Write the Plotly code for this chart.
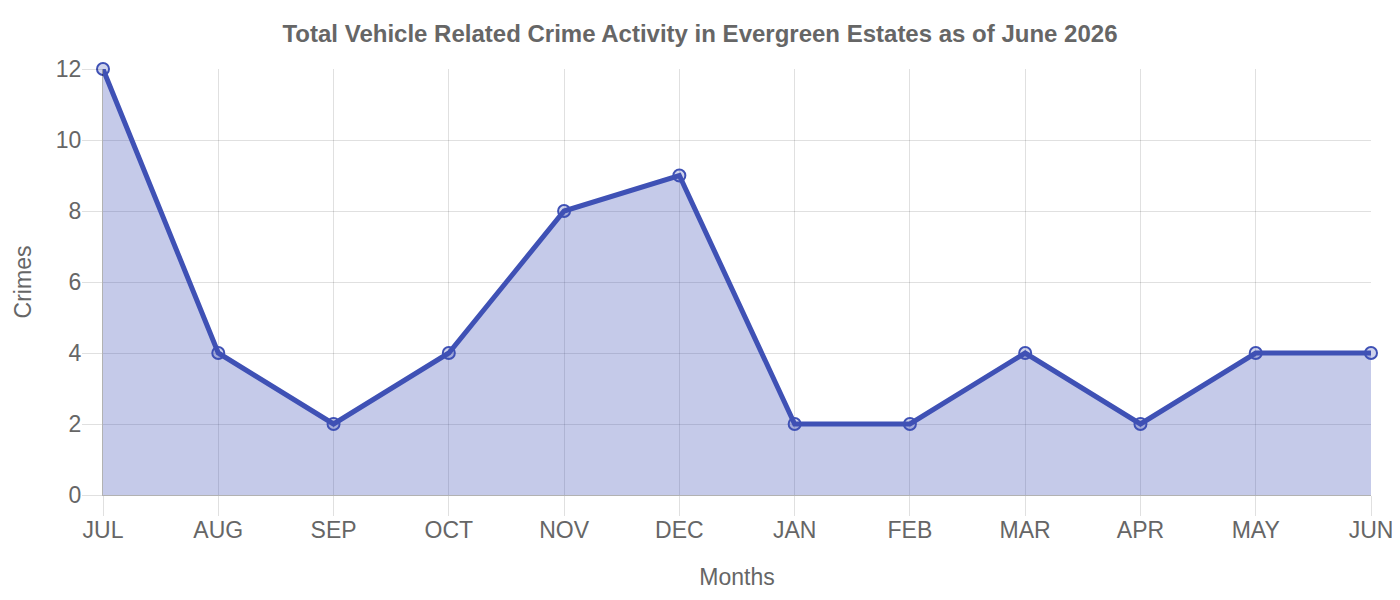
import plotly.graph_objects as go

months = ["JUL", "AUG", "SEP", "OCT", "NOV", "DEC", "JAN", "FEB", "MAR", "APR", "MAY", "JUN"]
crimes = [12, 4, 2, 4, 8, 9, 2, 2, 4, 2, 4, 4]

fig = go.Figure()
fig.add_trace(go.Scatter(
    x=months, y=crimes, mode="lines+markers",
    fill="tozeroy", fillcolor="rgba(63,81,181,0.3)",
    line=dict(color="#3f51b5", width=5),
    marker=dict(size=12, color="rgba(63,81,181,0.25)", line=dict(color="#3f51b5", width=2)),
    cliponaxis=False,
    hoverinfo="x+y",
))

font = "Liberation Sans, Arial, sans-serif"
W, H = 1384, 584
fig.update_layout(
    width=W, height=H,
    margin=dict(l=95, r=21, t=61, b=97, autoexpand=False),
    paper_bgcolor="white", plot_bgcolor="white",
    showlegend=False,
    title=dict(text="<b>Total Vehicle Related Crime Activity in Evergreen Estates as of June 2026</b>",
               x=0.5, xanchor="center", y=1 - 26/H, yanchor="middle",
               font=dict(family=font, size=24, color="#666666")),
    font=dict(family=font, color="#666666"),
)
fig.update_xaxes(
    type="category", range=[0, 11], automargin=False,
    showgrid=True, gridcolor="rgba(0,0,0,0.12)", gridwidth=1,
    ticks="outside", ticklen=20, tickcolor="rgba(0,0,0,0.12)", tickwidth=1,
    showline=True, linecolor="rgba(0,0,0,0.3)", linewidth=1,
    tickfont=dict(size=23, color="#666666"),
    ticklabelstandoff=-6,
    title=dict(text="Months", font=dict(size=23, color="#666666"), standoff=27),
    zeroline=False,
)
fig.update_yaxes(
    range=[0, 12], dtick=2, automargin=False,
    showgrid=True, gridcolor="rgba(0,0,0,0.12)", gridwidth=1,
    ticks="outside", ticklen=20, tickcolor="rgba(0,0,0,0.12)", tickwidth=1,
    showline=True, linecolor="rgba(0,0,0,0.3)", linewidth=1,
    tickfont=dict(size=23, color="#666666"),
    ticklabelstandoff=-4,
    title=dict(text="Crimes", font=dict(size=23, color="#666666"), standoff=17),
    zeroline=False,
)
fig.write_html("out.html")
